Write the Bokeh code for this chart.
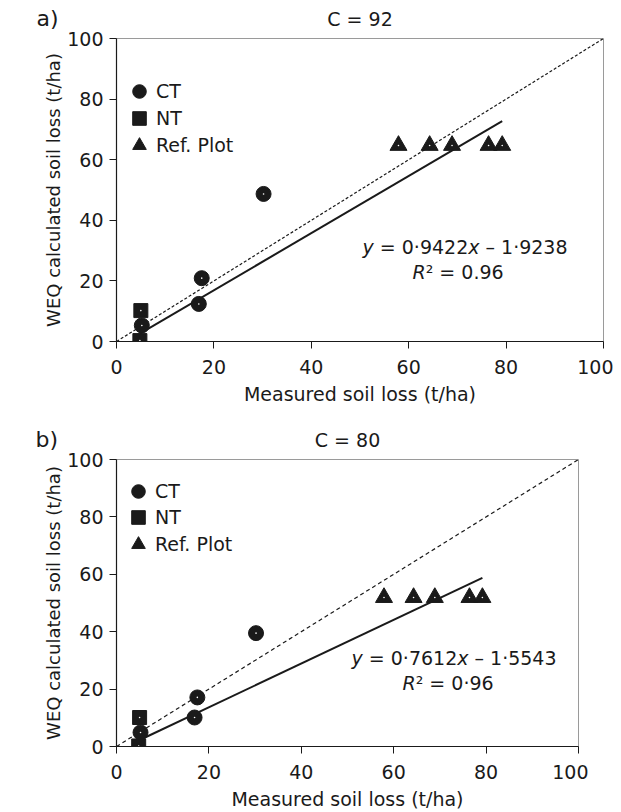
from bokeh.plotting import figure
from bokeh.models import Range1d, FixedTicker, Label, Legend, LegendItem
from bokeh.layouts import column
from bokeh.embed import file_html
from bokeh.resources import INLINE

# ---------------- data ----------------
ct_x = [30.2, 17.5, 16.9, 5.2]
ct_y_c92 = [48.7, 20.9, 12.4, 5.3]
ct_y_c80 = [39.5, 17.1, 10.1, 4.9]

nt_x = [5.0, 4.8]
nt_y_c92 = [10.2, 0.3]
nt_y_c80 = [10.1, 0.2]

ref_x = [57.9, 64.3, 68.9, 76.4, 79.2]
ref_y_c92 = [64.7, 64.7, 64.7, 64.7, 64.7]
ref_y_c80 = [51.9, 51.9, 51.9, 51.9, 51.9]

slope_c92, icpt_c92 = 0.9422, -1.9238
slope_c80, icpt_c80 = 0.7612, -1.5543

ticks = [0, 20, 40, 60, 80, 100]
one_to_one = [0, 100]

titles = ["C = 92", "C = 80"]
panel_tags = ["a)", "b)"]
legend_labels = ["CT", "NT", "Ref. Plot"]
eq_parts_c92 = ["y", "= 0·9422", "x", "\u2013 1·9238"]
eq_parts_c80 = ["y", "= 0·7612", "x", "\u2013 1·5543"]
r2_c92 = ["R", "\u00b2 = 0.96"]
r2_c80 = ["R", "\u00b2 = 0·96"]

FONT = "DejaVu Sans"
INK = "#1a1a1a"


def make_panel(title, tag, ct_y, nt_y, ref_y, slope, icpt, eq_parts, r2_parts,
               fw, fh, top_border, bottom_border, eq_pos, r2_pos, leg_x, leg_ys, dash):
    p = figure(frame_width=fw, frame_height=fh, output_backend="svg",
               toolbar_location=None, x_range=Range1d(0, 100), y_range=Range1d(0, 100),
               min_border_left=116, min_border_right=10, min_border_top=top_border,
               min_border_bottom=bottom_border)
    p.title.visible = False
    p.background_fill_color = "white"
    p.border_fill_color = "white"
    p.outline_line_color = "#9a9a9a"
    p.outline_line_width = 1
    p.xgrid.visible = False
    p.ygrid.visible = False

    for ax in (p.xaxis[0], p.yaxis[0]):
        ax.ticker = FixedTicker(ticks=ticks)
        ax.axis_line_color = INK
        ax.axis_line_width = 1.2
        ax.major_tick_line_color = INK
        ax.major_tick_out = 7
        ax.major_tick_in = 0
        ax.minor_tick_line_color = None
        ax.major_label_text_font = FONT
        ax.major_label_text_font_size = "19px"
        ax.major_label_text_color = INK
        ax.axis_label_text_font = FONT
        ax.axis_label_text_font_style = "normal"
        ax.axis_label_text_color = INK
    p.xaxis.axis_label = "Measured soil loss (t/ha)"
    p.xaxis.axis_label_text_font_size = "19px"
    p.xaxis.major_label_standoff = 11
    p.xaxis.axis_label_standoff = 6
    p.yaxis.axis_label = "WEQ calculated soil loss (t/ha)"
    p.yaxis.axis_label_text_font_size = "18px"
    p.yaxis.major_label_standoff = 6
    p.yaxis.axis_label_standoff = 0

    # 1:1 line
    p.line(one_to_one, one_to_one, line_color=INK, line_width=1.2, line_dash=dash)
    # regression line over the measured range
    all_x = ct_x + nt_x + ref_x
    xr = [min(all_x), max(all_x)]
    p.line(xr, [slope * v + icpt for v in xr], line_color=INK, line_width=2)

    r_ct = p.scatter(ct_x, ct_y, marker="circle", size=15, fill_color=INK, line_color=INK)
    r_nt = p.scatter(nt_x, nt_y, marker="square", size=14, fill_color=INK, line_color=INK)
    r_ref = p.scatter(ref_x, ref_y, marker="triangle", size=17, fill_color=INK, line_color=INK)
    # tiny white centre specks seen in the original markers
    p.scatter(ct_x + nt_x + ref_x, ct_y + nt_y + ref_y, marker="circle", size=1.6,
              fill_color="white", line_color=None)

    # legend: one single-item legend per row so rows sit close together
    for lab, rend, ly in zip(legend_labels, [r_ct, r_nt, r_ref], leg_ys):
        lg = Legend(items=[LegendItem(label=lab, renderers=[rend])],
                    location=(leg_x, ly), glyph_width=34, glyph_height=34, label_height=34,
                    label_standoff=0, padding=0, margin=0, spacing=0,
                    border_line_color=None, background_fill_alpha=0,
                    label_text_font=FONT, label_text_font_size="19px",
                    label_text_color=INK)
        p.add_layout(lg, "center")

    # title above the frame; panel tag in the left margin (level with the title)
    p.add_layout(Label(x=fw / 2, y=20, x_units="screen", y_units="screen", text=title,
                       text_font=FONT, text_font_size="19px", text_color=INK,
                       text_baseline="middle", text_align="center"), "above")
    p.add_layout(Label(x=18, y=fh + 20, x_units="screen", y_units="screen", text=tag,
                       text_font=FONT, text_font_size="22px", text_color=INK,
                       text_baseline="middle", text_align="left"), "left")

    # equation, pieces with italic variables
    offs = [0, 17.3, 105.7, 123.0]
    styles = ["italic", "normal", "italic", "normal"]
    for part, o, st in zip(eq_parts, offs, styles):
        p.add_layout(Label(x=eq_pos[0] + o, y=eq_pos[1], x_units="screen", y_units="screen",
                           text=part, text_font=FONT, text_font_size="19px",
                           text_font_style=st, text_color=INK, text_baseline="middle",
                           text_align="left"))
    for part, o, st in zip(r2_parts, [0, 13.2], ["italic", "normal"]):
        p.add_layout(Label(x=r2_pos[0] + o, y=r2_pos[1], x_units="screen", y_units="screen",
                           text=part, text_font=FONT, text_font_size="19px",
                           text_font_style=st, text_color=INK, text_baseline="middle",
                           text_align="left"))
    return p


p1 = make_panel(titles[0], panel_tags[0], ct_y_c92, nt_y_c92, ref_y_c92, slope_c92, icpt_c92,
                eq_parts_c92, r2_c92, fw=487, fh=303, top_border=38, bottom_border=70,
                eq_pos=(246, 95), r2_pos=(296, 70), leg_x=6, leg_ys=[233, 206, 179],
                dash="3 2")
p2 = make_panel(titles[1], panel_tags[1], ct_y_c80, nt_y_c80, ref_y_c80, slope_c80, icpt_c80,
                eq_parts_c80, r2_c80, fw=462, fh=287, top_border=48, bottom_border=64,
                eq_pos=(235, 89), r2_pos=(286, 64), leg_x=5, leg_ys=[238, 212, 185],
                dash="4 3")

layout = column(p1, p2, spacing=0)
open("out.html", "w").write(file_html(layout, INLINE))
